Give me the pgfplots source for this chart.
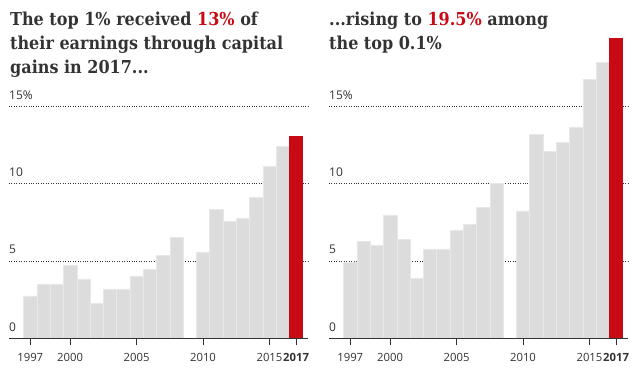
\documentclass[border=0pt]{standalone}
\usepackage{pgfplots}
\pgfplotsset{compat=1.18}
\usepackage{pgfplotstable}
\usepackage{fontspec}
\setmainfont{Open Sans}
\newfontfamily\titlefont{DejaVu Serif Condensed}
\definecolor{barg}{RGB}{220,220,220}
\definecolor{bare}{RGB}{232,232,232}
\definecolor{gred}{RGB}{200,10,20}
\definecolor{txt}{RGB}{51,51,51}
\pgfplotstableread{
year val
1997 2.75
1998 3.5
1999 3.5
2000 4.75
2001 3.85
2002 2.25
2003 3.2
2004 3.2
2005 4.0
2006 4.45
2007 5.35
2008 6.55
2010 5.6
2011 8.35
2012 7.55
2013 7.8
2014 9.15
2015 11.15
2016 12.45
}\topone
\pgfplotstableread{
year val
2017 13.1
}\toponered
\pgfplotstableread{
year val
1997 4.95
1998 6.3
1999 6.05
2000 8.0
2001 6.4
2002 3.9
2003 5.8
2004 5.8
2005 7.0
2006 7.4
2007 8.5
2008 10.05
2010 8.25
2011 13.2
2012 12.1
2013 12.7
2014 13.65
2015 16.75
2016 17.85
}\toppointone
\pgfplotstableread{
year val
2017 19.45
}\toppointonered
\begin{document}
\begin{tikzpicture}[x=1pt,y=1pt]
\useasboundingbox (0pt,0pt) rectangle (639pt,376pt);
\pgfplotsset{panel/.style={
  anchor=south west, scale only axis, width=299pt, height=308.8pt,
  xmin=1995.4, xmax=2017.9, ymin=0, ymax=20,
  axis x line*=bottom, x axis line style={draw=txt, line width=1.3pt, -},
  y axis line style={draw=none},
  xtick={1997,2000,2005,2010,2015,2017},
  xticklabels={1997,2000,2005,2010,2015,\textbf{2017}},
  major tick length=0pt,
  ytick={5,10,15}, yticklabels=\empty, ytick style={draw=none},
  ymajorgrids, grid style={draw=txt, line width=0.85pt, dash pattern=on 0.85pt off 1.6pt},
  /pgf/number format/assume math mode=true,
  xticklabel style={font=\fontsize{11.3}{13}\selectfont, text=txt, anchor=north, inner sep=0pt, yshift=-14.5pt},
  clip=false,
}}
\tikzset{yl/.style={anchor=base west, inner sep=0pt, yshift=7.3pt, font=\fontsize{12}{13}\selectfont, text=txt},
  base/.style={draw=txt, line width=1.3pt},
  tk/.style={draw=txt, line width=0.9pt}}
\begin{axis}[panel, at={(9pt,37.7pt)}]
\addplot[ybar, bar width=1, bar shift=0pt, fill=barg, draw=bare, line width=0.5pt] table[x=year,y=val]{\topone};
\addplot[ybar, bar width=1, bar shift=0pt, fill=gred, draw=gred, line width=0.5pt] table[x=year,y=val]{\toponered};
\draw[base] (axis cs:1995.4,0) -- (axis cs:2017.9,0);
\draw[tk] (axis cs:1997,0) -- ++(0pt,-7pt);
\draw[tk] (axis cs:2000,0) -- ++(0pt,-7pt);
\draw[tk] (axis cs:2005,0) -- ++(0pt,-7pt);
\draw[tk] (axis cs:2010,0) -- ++(0pt,-7pt);
\draw[tk] (axis cs:2015,0) -- ++(0pt,-7pt);
\draw[tk] (axis cs:2017,0) -- ++(0pt,-7pt);
\node[yl] at (axis cs:1995.4,0) {0};
\node[yl] at (axis cs:1995.4,5) {5};
\node[yl] at (axis cs:1995.4,10) {10};
\node[yl] at (axis cs:1995.4,15) {15\%};
\end{axis}
\begin{axis}[panel, at={(329pt,37.7pt)}]
\addplot[ybar, bar width=1, bar shift=0pt, fill=barg, draw=bare, line width=0.5pt] table[x=year,y=val]{\toppointone};
\addplot[ybar, bar width=1, bar shift=0pt, fill=gred, draw=gred, line width=0.5pt] table[x=year,y=val]{\toppointonered};
\draw[base] (axis cs:1995.4,0) -- (axis cs:2017.9,0);
\draw[tk] (axis cs:1997,0) -- ++(0pt,-7pt);
\draw[tk] (axis cs:2000,0) -- ++(0pt,-7pt);
\draw[tk] (axis cs:2005,0) -- ++(0pt,-7pt);
\draw[tk] (axis cs:2010,0) -- ++(0pt,-7pt);
\draw[tk] (axis cs:2015,0) -- ++(0pt,-7pt);
\draw[tk] (axis cs:2017,0) -- ++(0pt,-7pt);
\node[yl] at (axis cs:1995.4,0) {0};
\node[yl] at (axis cs:1995.4,5) {5};
\node[yl] at (axis cs:1995.4,10) {10};
\node[yl] at (axis cs:1995.4,15) {15\%};
\end{axis}
\tikzset{tt/.style={anchor=base west, inner sep=0pt, font=\titlefont\bfseries\fontsize{17.8}{20}\selectfont, text=txt}}
\node[tt] at (10pt,351pt) {The top 1\% received \textcolor{gred}{13\%} of};
\node[tt] at (10pt,327pt) {their earnings through capital};
\node[tt] at (10pt,303pt) {gains in 2017...};
\node[tt] at (329pt,351pt) {...rising to \textcolor{gred}{19.5\%} among};
\node[tt] at (329pt,327pt) {the top 0.1\%};
\end{tikzpicture}
\end{document}
